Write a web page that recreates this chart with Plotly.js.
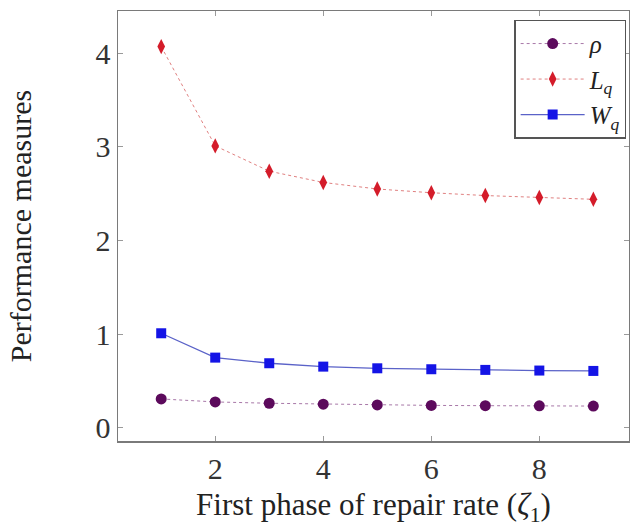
<!DOCTYPE html>
<html>
<head>
<meta charset="utf-8">
<script src="https://cdn.plot.ly/plotly-3.0.1.min.js"></script>
<style>html,body{margin:0;padding:0;overflow:hidden;background:#fff;}</style>
</head>
<body>
<div id="chart"></div>
<script>
const xValues = [1, 2, 3, 4, 5, 6, 7, 8, 9];
const rhoValues = [0.309, 0.277, 0.263, 0.253, 0.245, 0.240, 0.237, 0.235, 0.233];
const lqValues = [4.07, 3.01, 2.74, 2.62, 2.55, 2.51, 2.48, 2.46, 2.44];
const wqValues = [1.01, 0.75, 0.69, 0.654, 0.636, 0.626, 0.619, 0.612, 0.608];
const seriesNames = ['<i>ρ</i>', '<i>L<sub>q</sub></i>', '<i>W<sub>q</sub></i>'];
const xTicks = [2, 4, 6, 8];
const yTicks = [0, 1, 2, 3, 4];

const font = 'Liberation Serif, Times New Roman, serif';

const traces = [
  {x: xValues, y: rhoValues, name: seriesNames[0], mode: 'lines+markers',
   line: {color: '#a878a8', width: 1, dash: 'dot'},
   marker: {symbol: 'circle', size: 11, color: '#5c0a5c'}},
  {x: xValues, y: lqValues, name: seriesNames[1], mode: 'lines+markers',
   line: {color: '#e08080', width: 1, dash: 'dot'},
   marker: {symbol: 'diamond-tall', size: 11, color: '#d41c2a'}},
  {x: xValues, y: wqValues, name: seriesNames[2], mode: 'lines+markers',
   line: {color: '#5a62c8', width: 1.3},
   marker: {symbol: 'square', size: 10, color: '#1414e6'}}
];

const axisCommon = {
  showline: true, linecolor: '#7a7a7a', linewidth: 1.5, mirror: 'allticks',
  ticks: 'inside', ticklen: 5, tickcolor: '#9a9a9a', tickwidth: 1,
  showgrid: false, zeroline: false,
  tickfont: {family: font, size: 30, color: '#333'}
};

const layout = {
  width: 630, height: 527,
  margin: {l: 118, r: 1, t: 11, b: 86},
  paper_bgcolor: '#fff', plot_bgcolor: '#fff',
  showlegend: true,
  xaxis: Object.assign({}, axisCommon, {
    range: [0.2, 9.66], tickvals: xTicks, ticktext: xTicks.map(String),
    title: {text: 'First phase of repair rate (<i>ζ</i><sub>1</sub>)', font: {family: font, size: 31, color: '#222'}, standoff: 15}
  }),
  yaxis: Object.assign({}, axisCommon, {
    range: [-0.14, 4.45], tickvals: yTicks, ticktext: yTicks.map(String),
    title: {text: 'Performance measures', font: {family: font, size: 30, color: '#222'}, standoff: 55}
  }),
  legend: {
    x: 0.995, y: 0.98, xanchor: 'right', yanchor: 'top',
    bordercolor: '#555', borderwidth: 1.2, bgcolor: '#fff',
    font: {family: font, size: 25, color: '#222'},
    tracegroupgap: 0, itemwidth: 64
  }
};

Plotly.newPlot('chart', traces, layout, {staticPlot: true, displayModeBar: false});
</script>
</body>
</html>
